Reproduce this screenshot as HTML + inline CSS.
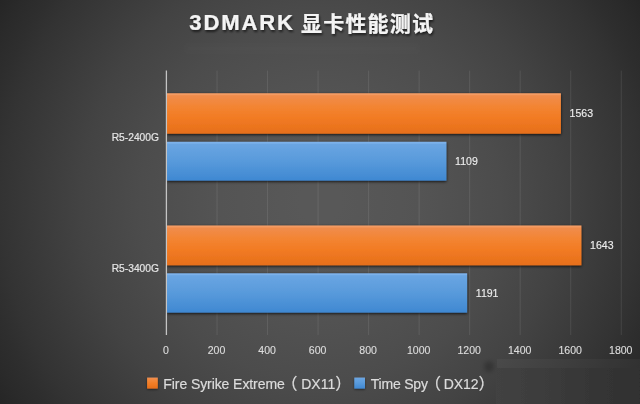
<!DOCTYPE html>
<html lang="zh-CN">
<head>
<meta charset="utf-8">
<title>3DMARK 显卡性能测试</title>
<style>
html,body{margin:0;padding:0;background:#262626;}
body{width:640px;height:404px;overflow:hidden;}
svg{display:block;font-family:"Liberation Sans","Noto Sans CJK SC",sans-serif;}
.title{font-size:20px;font-weight:bold;fill:#f4f4f4;stroke:#f4f4f4;stroke-width:0.22px;}
.grid line{stroke:#fff;stroke-opacity:.095;stroke-width:1;}
.cat text{font-size:11.8px;fill:#e6e6e6;stroke:#e6e6e6;stroke-width:0.2px;text-anchor:end;}
.val text{font-size:11.8px;fill:#ededed;stroke:#ededed;stroke-width:0.15px;}
.tick text{font-size:11.8px;fill:#dcdcdc;stroke:#dcdcdc;stroke-width:0.15px;text-anchor:middle;}
.leg text{font-size:14px;fill:#dcdcdc;stroke:#dcdcdc;stroke-width:0.2px;}
.leg .pa{font-size:16px;}
</style>
</head>
<body>
<svg width="640" height="404" viewBox="0 0 640 404">
  <defs>
    <radialGradient id="bg" gradientUnits="userSpaceOnUse" cx="320" cy="202" r="380">
      <stop offset="0.00%" stop-color="#585858"/>
      <stop offset="5.26%" stop-color="#585858"/>
      <stop offset="10.53%" stop-color="#575757"/>
      <stop offset="15.79%" stop-color="#565656"/>
      <stop offset="21.05%" stop-color="#555555"/>
      <stop offset="26.32%" stop-color="#545454"/>
      <stop offset="31.58%" stop-color="#525252"/>
      <stop offset="36.84%" stop-color="#505050"/>
      <stop offset="42.11%" stop-color="#4e4e4e"/>
      <stop offset="47.37%" stop-color="#4c4c4c"/>
      <stop offset="52.63%" stop-color="#494949"/>
      <stop offset="57.89%" stop-color="#464646"/>
      <stop offset="63.16%" stop-color="#434343"/>
      <stop offset="68.42%" stop-color="#3f3f3f"/>
      <stop offset="73.68%" stop-color="#3b3b3b"/>
      <stop offset="78.95%" stop-color="#373737"/>
      <stop offset="84.21%" stop-color="#333333"/>
      <stop offset="89.47%" stop-color="#2e2e2e"/>
      <stop offset="94.74%" stop-color="#2a2a2a"/>
      <stop offset="100.00%" stop-color="#252525"/>
    </radialGradient>
    <linearGradient id="pt" x1="0" y1="0" x2="1" y2="0">
      <stop offset="0" stop-color="#424242"/>
      <stop offset="1" stop-color="#2f2f2f"/>
    </linearGradient>
    <linearGradient id="go" x1="0" y1="0" x2="0" y2="1">
      <stop offset="0" stop-color="#f49b62"/>
      <stop offset="0.035" stop-color="#f49b62"/>
      <stop offset="0.06" stop-color="#f08c4c"/>
      <stop offset="0.35" stop-color="#f38431"/>
      <stop offset="0.6" stop-color="#f27b24"/>
      <stop offset="1" stop-color="#e66f1a"/>
    </linearGradient>
    <linearGradient id="gb" x1="0" y1="0" x2="0" y2="1">
      <stop offset="0" stop-color="#7cb1ea"/>
      <stop offset="0.035" stop-color="#7cb1ea"/>
      <stop offset="0.06" stop-color="#6aa5e2"/>
      <stop offset="0.5" stop-color="#589adb"/>
      <stop offset="1" stop-color="#3f88d2"/>
    </linearGradient>
    <filter id="soft" x="-5%" y="-20%" width="110%" height="140%">
      <feGaussianBlur stdDeviation="0.6"/>
    </filter>
    <filter id="soft2" x="-100%" y="-100%" width="300%" height="300%">
      <feGaussianBlur stdDeviation="2.2"/>
    </filter>
    <filter id="sh2" x="-40%" y="-40%" width="180%" height="180%">
      <feGaussianBlur in="SourceAlpha" stdDeviation="0.8"/>
      <feOffset dx="0" dy="0.6"/>
      <feComponentTransfer><feFuncA type="linear" slope="0.5"/></feComponentTransfer>
      <feMerge><feMergeNode/><feMergeNode in="SourceGraphic"/></feMerge>
    </filter>
    <filter id="sh" x="-5%" y="-30%" width="110%" height="160%">
      <feGaussianBlur in="SourceAlpha" stdDeviation="1.5"/>
      <feOffset dx="0.3" dy="1.1" result="b"/>
      <feComponentTransfer><feFuncA type="linear" slope="0.85"/></feComponentTransfer>
      <feMerge><feMergeNode/><feMergeNode in="SourceGraphic"/></feMerge>
    </filter>
    <filter id="ts" x="-5%" y="-30%" width="110%" height="170%">
      <feGaussianBlur in="SourceAlpha" stdDeviation="1.2"/>
      <feOffset dx="1" dy="1.5"/>
      <feComponentTransfer><feFuncA type="linear" slope="0.6"/></feComponentTransfer>
      <feMerge><feMergeNode/><feMergeNode in="SourceGraphic"/></feMerge>
    </filter>
  </defs>
  <rect width="640" height="404" fill="url(#bg)"/>
  <g filter="url(#soft)">
    <rect x="496" y="368" width="150" height="42" fill="url(#pt)"/>
    <rect x="497" y="359" width="150" height="9" fill="#fff" fill-opacity="0.03"/>
  </g>
  <text class="title" filter="url(#ts)"><tspan x="189.3" y="30.3" font-size="22" letter-spacing="1.9">3DMARK </tspan><tspan x="301.0" y="31.0" font-size="21" letter-spacing="1.2">显卡性能测试</tspan></text>
  <ellipse cx="489" cy="366.5" rx="5" ry="5.5" fill="#000" fill-opacity="0.22" filter="url(#soft2)"/>
  <rect x="186" y="44.5" width="232" height="8" fill="#fff" fill-opacity="0.012" filter="url(#soft2)"/>
  <g class="grid"><line x1="217.03" y1="70.6" x2="217.03" y2="335" /><line x1="267.56" y1="70.6" x2="267.56" y2="335" /><line x1="318.08" y1="70.6" x2="318.08" y2="335" /><line x1="368.61" y1="70.6" x2="368.61" y2="335" /><line x1="419.14" y1="70.6" x2="419.14" y2="335" /><line x1="469.67" y1="70.6" x2="469.67" y2="335" /><line x1="520.19" y1="70.6" x2="520.19" y2="335" /><line x1="570.72" y1="70.6" x2="570.72" y2="335" /><line x1="621.25" y1="70.6" x2="621.25" y2="335" /></g>
  <g class="bars">
    <rect class="o" x="167.00" y="93.25" width="393.90" height="40.45" fill="url(#go)" filter="url(#sh)"/>
    <rect class="b" x="167.00" y="141.8" width="279.40" height="38.80" fill="url(#gb)" filter="url(#sh)"/>
    <rect class="o" x="167.00" y="225.5" width="414.40" height="39.80" fill="url(#go)" filter="url(#sh)"/>
    <rect class="b" x="167.00" y="273.3" width="300.10" height="39.30" fill="url(#gb)" filter="url(#sh)"/>
    </g>
  <line x1="166.4" y1="70.6" x2="166.4" y2="335" stroke="#c4c4c4" stroke-width="1.3"/>
  <g class="cat">
    <text transform="translate(159 140.8) scale(0.87 1)">R5-2400G</text>
    <text transform="translate(159 272.0) scale(0.87 1)">R5-3400G</text>
  </g>
  <g class="val">
    <text transform="translate(569.60 117.27) scale(0.895 1)">1563</text>
    <text transform="translate(455.10 165.00) scale(0.895 1)">1109</text>
    <text transform="translate(590.10 249.20) scale(0.895 1)">1643</text>
    <text transform="translate(475.80 296.75) scale(0.895 1)">1191</text>
    </g>
  <g class="tick"><text transform="translate(166.00 354.1) scale(0.895 1)">0</text><text transform="translate(216.53 354.1) scale(0.895 1)">200</text><text transform="translate(267.06 354.1) scale(0.895 1)">400</text><text transform="translate(317.58 354.1) scale(0.895 1)">600</text><text transform="translate(368.11 354.1) scale(0.895 1)">800</text><text transform="translate(418.64 354.1) scale(0.895 1)">1000</text><text transform="translate(469.17 354.1) scale(0.895 1)">1200</text><text transform="translate(519.69 354.1) scale(0.895 1)">1400</text><text transform="translate(570.22 354.1) scale(0.895 1)">1600</text><text transform="translate(620.75 354.1) scale(0.895 1)">1800</text></g>
  <g class="leg">
    <rect x="147.1" y="377.6" width="10.7" height="11" fill="url(#go)" filter="url(#sh2)"/>
    <text y="388.6"><tspan x="163.3" letter-spacing="-0.08">Fire Syrike Extreme</tspan><tspan class="pa" x="281.5" y="389.1">（</tspan><tspan x="301.2" y="388.6">DX11</tspan><tspan class="pa" x="335.3" y="389.1">）</tspan></text>
    <rect x="354.3" y="377.6" width="10.7" height="11" fill="url(#gb)" filter="url(#sh2)"/>
    <text y="388.6"><tspan x="370.7" letter-spacing="-0.2">Time Spy</tspan><tspan class="pa" x="425" y="389.1">（</tspan><tspan x="443.8" y="388.6" letter-spacing="-0.1">DX12</tspan><tspan class="pa" x="478.5" y="389.1">）</tspan></text>
  </g>
</svg>
</body>
</html>
